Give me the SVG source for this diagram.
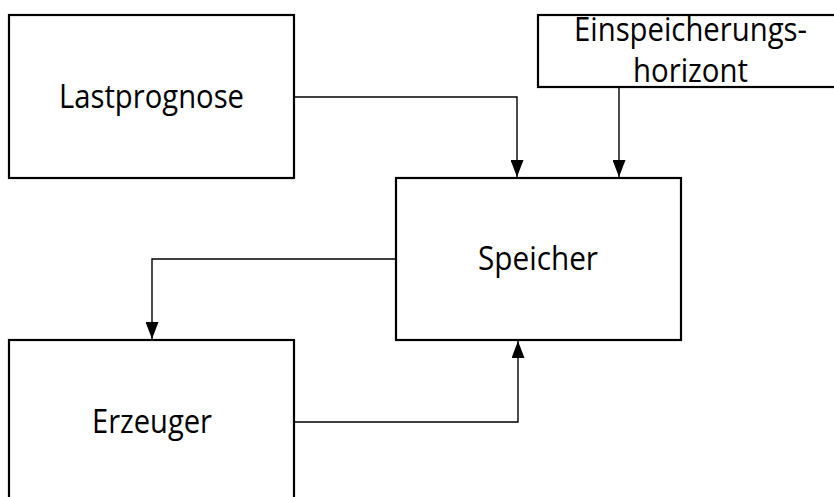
<svg xmlns="http://www.w3.org/2000/svg" width="834" height="497" viewBox="0 0 834 497">
  <style>
    .box { fill: #ffffff; stroke: #000000; stroke-width: 2.2; }
    .wire { fill: none; stroke: #000000; stroke-width: 1.4; }
    .lbl { font-family: "Open Sans", "Liberation Sans", sans-serif; font-size: 32px; fill: #000000; text-anchor: middle; }
  </style>
  <defs>
    <marker id="arrow" markerUnits="userSpaceOnUse" markerWidth="17" markerHeight="13" viewBox="0 0 17 13" refX="17" refY="6.5" orient="auto">
      <path d="M0,0 L17,6.5 L0,13 Z" fill="#000000"/>
    </marker>
  </defs>

  <rect width="834" height="497" fill="#ffffff"/>

  <g id="connectors">
    <!-- Lastprognose -> Speicher -->
    <path class="wire" d="M294,97 H517 V177" marker-end="url(#arrow)"/>
    <!-- Einspeicherungshorizont -> Speicher -->
    <path class="wire" d="M619,87 V177" marker-end="url(#arrow)"/>
    <!-- Speicher -> Erzeuger -->
    <path class="wire" d="M396,259 H152 V339" marker-end="url(#arrow)"/>
    <!-- Erzeuger -> Speicher -->
    <path class="wire" d="M294,422 H518 V341" marker-end="url(#arrow)"/>
  </g>

  <g id="lastprognose">
    <rect class="box" x="9" y="15" width="285" height="163"/>
    <text class="lbl" x="151.5" y="108" textLength="185" lengthAdjust="spacingAndGlyphs">Lastprognose</text>
  </g>

  <g id="einspeicherungshorizont">
    <rect class="box" x="538" y="15" width="310" height="72"/>
    <text class="lbl" x="690.5" y="41" textLength="233" lengthAdjust="spacingAndGlyphs">Einspeicherungs-</text>
    <text class="lbl" x="690.5" y="82" textLength="115" lengthAdjust="spacingAndGlyphs">horizont</text>
  </g>

  <g id="speicher">
    <rect class="box" x="396" y="178" width="285" height="162"/>
    <text class="lbl" x="538" y="270" textLength="120" lengthAdjust="spacingAndGlyphs">Speicher</text>
  </g>

  <g id="erzeuger">
    <rect class="box" x="9" y="340" width="285" height="170"/>
    <text class="lbl" x="152" y="433" textLength="120" lengthAdjust="spacingAndGlyphs">Erzeuger</text>
  </g>
</svg>
